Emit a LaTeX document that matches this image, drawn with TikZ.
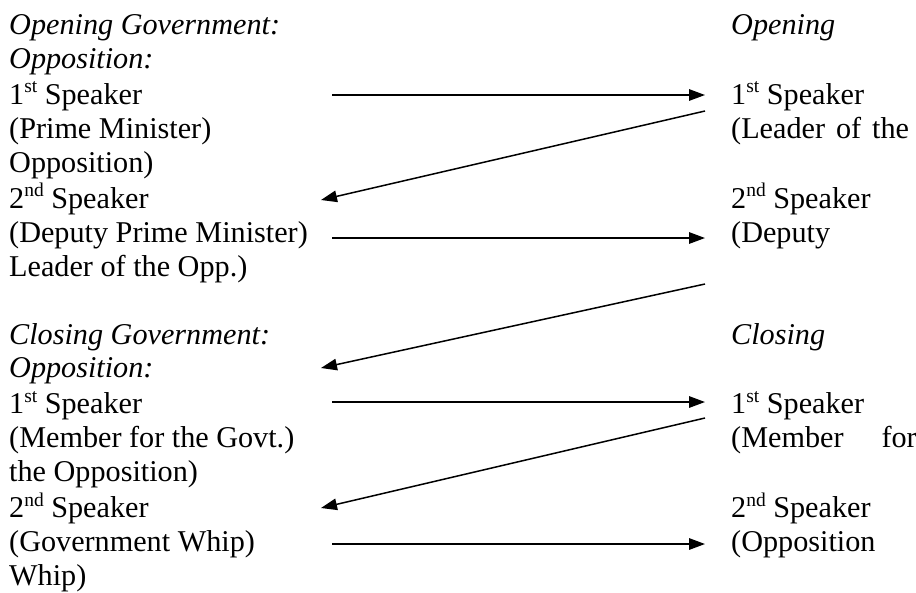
\documentclass[tikz,border=0pt]{standalone}
\usepackage{fontspec}
\setmainfont{Liberation Serif}
\usetikzlibrary{arrows.meta}
% raised ordinal suffix (1st, 2nd)
\newcommand{\ordsup}[1]{\raisebox{0.38em}{\fontsize{19.5}{19.5}\selectfont #1}}
\begin{document}
\begin{tikzpicture}[x=1pt,y=-1pt,
  txt/.style={anchor=base west, inner sep=0pt, font=\fontsize{30.2}{34}\selectfont},
  head/.style={txt, font=\fontsize{30.2}{34}\selectfont\itshape},
  flow/.style={-{Triangle[length=16pt,width=11.5pt]}, line width=1.5pt}]
\useasboundingbox (0,0) rectangle (916,592);

% government side
\node[head] (og)  at (9,34)    {Opening Government:};
\node[head] (oo)  at (9,68)    {Opposition:};
\node[txt]  (g1)  at (9,104)   {1\ordsup{st} Speaker};
\node[txt]  (g1r) at (9,138)   {(Prime Minister)};
\node[txt]  (g1x) at (9,172)   {Opposition)};
\node[txt]  (g2)  at (9,208)   {2\ordsup{nd} Speaker};
\node[txt]  (g2r) at (9,242)   {(Deputy Prime Minister)};
\node[txt]  (g2x) at (9,276)   {Leader of the Opp.)};
\node[head] (cg)  at (9,344)   {Closing Government:};
\node[head] (co)  at (9,377)   {Opposition:};
\node[txt]  (g3)  at (9,413.5) {1\ordsup{st} Speaker};
\node[txt]  (g3r) at (9,447.5) {(Member for the Govt.)};
\node[txt]  (g3x) at (9,481.5) {the Opposition)};
\node[txt]  (g4)  at (9,517.5) {2\ordsup{nd} Speaker};
\node[txt]  (g4r) at (9,551)   {(Government Whip)};
\node[txt]  (g4x) at (9,585)   {Whip)};

% opposition side
\node[head] (ro)  at (731,34)    {Opening};
\node[txt]  (o1)  at (731,104)   {1\ordsup{st} Speaker};
\node[txt]  (o1r) at (731,138)   {(Leader\hspace{11pt}of\hspace{11pt}the};
\node[txt]  (o2)  at (731,208)   {2\ordsup{nd} Speaker};
\node[txt]  (o2r) at (731,242)   {(Deputy};
\node[head] (rc)  at (731,344)   {Closing};
\node[txt]  (o3)  at (731,413.5) {1\ordsup{st} Speaker};
\node[txt]  (o3r) at (731,447.5) {(Member\hspace{38pt}for};
\node[txt]  (o4)  at (731,517.5) {2\ordsup{nd} Speaker};
\node[txt]  (o4r) at (731,551)   {(Opposition};

% arrow end points
\coordinate (a1s) at (332,95);  \coordinate (a1e) at (705,95);
\coordinate (a2s) at (705,111); \coordinate (a2e) at (321,200);
\coordinate (a3s) at (332,238); \coordinate (a3e) at (705,238);
\coordinate (a4s) at (705,284); \coordinate (a4e) at (321,368);
\coordinate (a5s) at (332,402); \coordinate (a5e) at (705,402);
\coordinate (a6s) at (705,418); \coordinate (a6e) at (321,508);
\coordinate (a7s) at (332,544); \coordinate (a7e) at (705,544);

% speaking order
\draw[flow] (a1s) -- (a1e);
\draw[flow] (a2s) -- (a2e);
\draw[flow] (a3s) -- (a3e);
\draw[flow] (a4s) -- (a4e);
\draw[flow] (a5s) -- (a5e);
\draw[flow] (a6s) -- (a6e);
\draw[flow] (a7s) -- (a7e);
\end{tikzpicture}
\end{document}
